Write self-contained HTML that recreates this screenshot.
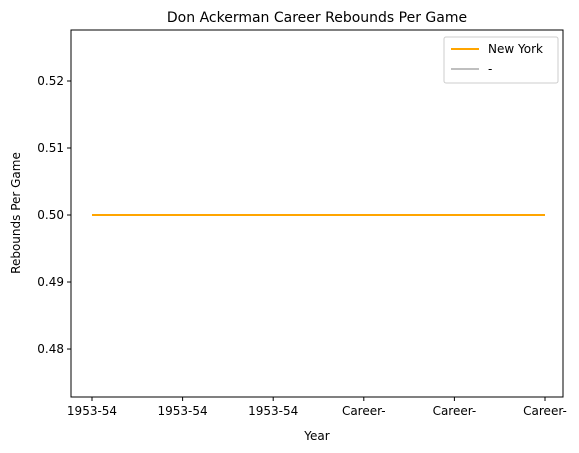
<!DOCTYPE html>
<html><head><meta charset="utf-8"><style>
body{margin:0;background:#fff;}
svg{display:block;font-family:"DejaVu Sans","Liberation Sans",sans-serif;}
</style></head><body>
<svg id="chart" width="579" height="453" viewBox="0 0 579 453">
<text x="317" y="22" font-size="14" text-anchor="middle">Don Ackerman Career Rebounds Per Game</text>
<g id="yticks"></g>
<g id="xticks"></g>
<g id="series"></g>
<rect x="71" y="30" width="492" height="367" fill="none" stroke="#000" stroke-width="1"/>
<text x="317" y="440" font-size="12" text-anchor="middle">Year</text>
<text x="20" y="213" font-size="12" text-anchor="middle" transform="rotate(-90 20 213)">Rebounds Per Game</text>
<g>
<rect x="444" y="37" width="114" height="46" rx="2" fill="#fff" stroke="#ccc"/>
<line x1="451" y1="49" x2="479" y2="49" stroke="orange" stroke-width="2"/>
<text x="488" y="53" font-size="12">New York</text>
<line x1="451" y1="69" x2="479" y2="69" stroke="#bfbfbf" stroke-width="2"/>
<text x="488" y="73" font-size="12">-</text>
</g>
</svg>
<script>
const categories = ["1953-54","1953-54","1953-54","Career-","Career-","Career-"];
const newYorkValues = [0.5,0.5,0.5,0.5,0.5,0.5];
const yTickValues = [0.48,0.49,0.50,0.51,0.52];
const yTickLabels = ["0.48","0.49","0.50","0.51","0.52"];
const NS="http://www.w3.org/2000/svg";
const yMin=0.47284,yMax=0.52761,plotTop=30,plotBottom=397;
const xL=92,xR=545;
function yS(v){return plotBottom-(v-yMin)/(yMax-yMin)*(plotBottom-plotTop);}
function xS(i){return xL+i*(xR-xL)/(categories.length-1);}
function mk(t,a){const e=document.createElementNS(NS,t);for(const k in a)e.setAttribute(k,a[k]);return e;}
const yg=document.getElementById('yticks');
yTickValues.forEach((v,i)=>{
 const y=yS(v);
 const l=mk('line',{x1:67,x2:71,y1:y,y2:y,stroke:'#000'});
 
 
 yg.appendChild(l);
 const t=mk('text',{x:64,y:y+4,'font-size':12,'text-anchor':'end'});
 
 
 t.textContent=yTickLabels[i];yg.appendChild(t);
});
const xg=document.getElementById('xticks');
categories.forEach((c,i)=>{
 const x=xS(i);
 const l=mk('line',{x1:x,x2:x,y1:397,y2:401,stroke:'#000'});
 
 
 xg.appendChild(l);
 const t=mk('text',{x:x,y:415,'font-size':12,'text-anchor':'middle'});
 
 
 t.textContent=c;xg.appendChild(t);
});
const pts=newYorkValues.map((v,i)=>xS(i)+','+yS(v)).join(' ');
const pl=mk('polyline',{points:pts,fill:'none',stroke:'orange','stroke-width':2});


document.getElementById('series').appendChild(pl);
</script>
</body></html>
